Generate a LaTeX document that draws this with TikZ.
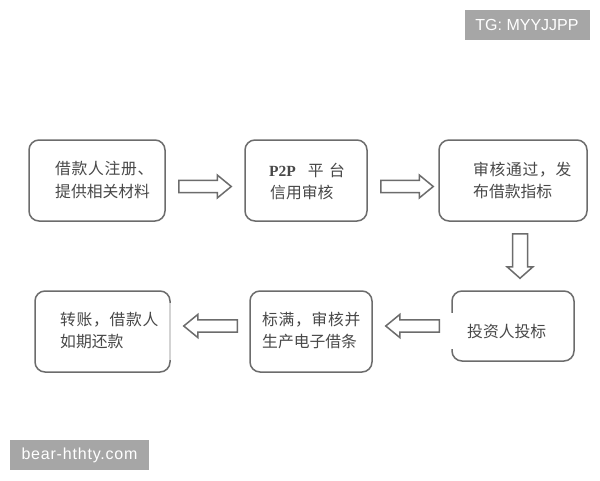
\documentclass[tikz,border=0pt]{standalone}
\usepackage{fontspec}
\setmainfont{Liberation Sans}
\newfontfamily\cjk{Noto Sans CJK SC}
\newfontfamily\latinserif{Liberation Serif}
\usetikzlibrary{calc}
\definecolor{edgegray}{HTML}{6C6C6C}
\definecolor{inkgray}{HTML}{484848}
\definecolor{taggray}{HTML}{A6A6A6}
\def\headhalf{11.5pt}
\def\headlen{14pt}
\tikzset{
  x=1pt,y=-1pt,
  flowbox/.style={draw=edgegray,line width=1.5pt,rounded corners=10pt,fill=white,inner sep=0pt},
  cjktext/.style={anchor=west,inner sep=0pt,text=inkgray,font=\cjk\fontsize{15.8}{18}\selectfont},
  tagtext/.style={text=white,inner sep=0pt,font=\fontsize{16}{18}\selectfont},
  head half/.store in=\headhalf,
  head len/.store in=\headlen,
  blockarrow/.style={draw=edgegray,line width=1.5pt,fill=white,line join=miter,
    to path={
      ($(\tikztostart)!#1!90:(\tikztotarget)$)
      -- ($(\tikztotarget)!\headlen!(\tikztostart)!#1!90:(\tikztotarget)$)
      -- ($(\tikztotarget)!\headlen!(\tikztostart)!\headhalf!90:(\tikztotarget)$)
      -- (\tikztotarget)
      -- ($(\tikztotarget)!\headlen!(\tikztostart)!\headhalf!-90:(\tikztotarget)$)
      -- ($(\tikztotarget)!\headlen!(\tikztostart)!#1!-90:(\tikztotarget)$)
      -- ($(\tikztostart)!#1!-90:(\tikztotarget)$)
      -- cycle}},
  blockarrow/.default=6.2pt
}
\begin{document}
\begin{tikzpicture}
\useasboundingbox (0,0) rectangle (600,480);
\fill[white] (0,0) rectangle (600,480);
% boxes
\node[flowbox,minimum width=136pt,minimum height=81pt] (n1) at (97,180.5) {};
\node[flowbox,minimum width=122pt,minimum height=81pt] (n2) at (306,180.5) {};
\node[flowbox,minimum width=148pt,minimum height=81pt] (n3) at (513,180.5) {};
\node[flowbox,minimum width=122pt,minimum height=70pt] (n4) at (513,326) {};
\node[flowbox,minimum width=122pt,minimum height=81pt] (n5) at (311,331.5) {};
\node[flowbox,minimum width=135pt,minimum height=81pt] (n6) at (102.5,331.5) {};
% breaks in the outlines
\draw[white,line width=2.6pt] (452,313) -- (452,349);
\draw[white!70!edgegray,line width=1.8pt] (170,303) -- (170,360);
% arrow ends
\coordinate (a1s) at ($(n1.east)+(13,6)$);
\coordinate (a1e) at ($(n2.west)+(-13,6)$);
\coordinate (a2s) at ($(n2.east)+(13,6)$);
\coordinate (a2e) at ($(n3.west)+(-5,6)$);
\coordinate (a3s) at ($(n3.south)+(7,12)$);
\coordinate (a3e) at ($(n4.north)+(7,-12)$);
\coordinate (a4s) at ($(n4.west)+(-12,0)$);
\coordinate (a4e) at ($(n5.east)+(13,-5.5)$);
\coordinate (a5s) at ($(n5.west)+(-12,-5.5)$);
\coordinate (a5e) at ($(n6.east)+(13,-5.5)$);
\draw[blockarrow] (a1s) to (a1e);
\draw[blockarrow] (a2s) to (a2e);
\draw[blockarrow=7.5pt,head half=13pt,head len=11.5pt] (a3s) to (a3e);
\draw[blockarrow] (a4s) to (a4e);
\draw[blockarrow] (a5s) to (a5e);
% texts
\node[cjktext] (t1a) at (55,169) {\addfontfeature{LetterSpace=4.4}借款人注册、};
\node[cjktext] (t1b) at (55,191) {提供相关材料};
\node[cjktext] (t2a) at (269,170) {{\latinserif\bfseries\fontsize{15.5}{18}\selectfont P2P}\hspace{12pt}平\hspace{5.5pt}台};
\node[cjktext] (t2b) at (270,192) {信用审核};
\node[cjktext] (t3a) at (473,170) {\addfontfeature{LetterSpace=4.4}审核通过，发};
\node[cjktext] (t3b) at (473,192) {布借款指标};
\node[cjktext] (t4) at (467,332) {投资人投标};
\node[cjktext] (t5a) at (262,320) {\addfontfeature{LetterSpace=4.4}标满，审核并};
\node[cjktext] (t5b) at (262,342) {生产电子借条};
\node[cjktext] (t6a) at (60,320) {\addfontfeature{LetterSpace=4.4}转账，借款人};
\node[cjktext] (t6b) at (60,342) {如期还款};
% tags
\fill[taggray] (465,10) rectangle (590,40);
\node[tagtext] (wm1) at (527,25) {TG: MYYJJPP};
\fill[taggray] (10,440) rectangle (149,470);
\node[tagtext] (wm2) at (79.5,455) {\addfontfeature{LetterSpace=5}bear-hthty.com};
\end{tikzpicture}
\end{document}
